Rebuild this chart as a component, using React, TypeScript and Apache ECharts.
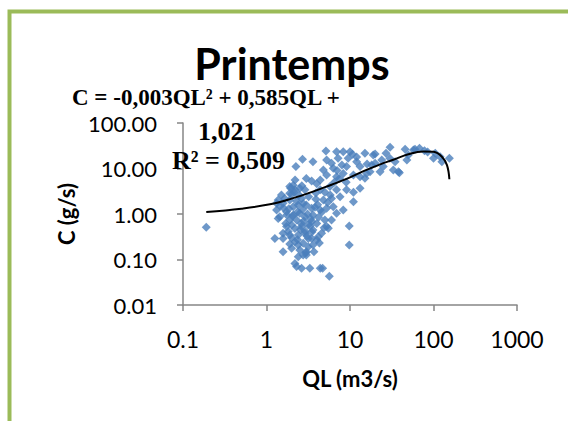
import React, { useEffect, useRef } from "react";
import * as echarts from "echarts";

// Scatter observations: QL (m3/s) and C (g/s)
const QL: number[] = [
  5.15, 6.9, 8.3, 10, 10.7, 15.1, 20, 9.5, 12, 7.2,
  5.25, 6.0, 3.6, 2.7, 2.25, 4.8, 6.3, 9.1, 13.2, 18.2,
  15.8, 11, 8.3, 6.9, 5.25, 4.4, 3.47, 2.09, 2.19, 2.5,
  2.88, 1.9, 1.51, 1.38, 1.9, 2.63, 4.4, 5.75, 6.9, 9.1,
  13.2, 11, 7.6, 6.0, 4.8, 1.32, 1.44, 1.74, 2.09, 2.4,
  3.0, 3.47, 2.5, 1.9, 2.29, 2.88, 3.6, 4.4, 5.25, 6.3,
  6.9, 5.0, 4.0, 3.16, 2.63, 2.19, 1.74, 6.0, 8.3, 9.8,
  3.6, 1.26, 1.58, 1.9, 2.4, 2.88, 3.47, 2.19, 2.75, 4.0,
  4.57, 5.25, 1.58, 2.0, 2.5, 3.16, 3.6, 2.4, 2.75, 2.29,
  2.63, 3.3, 4.4, 4.7, 5.65, 9.8, 2.19, 1.9, 2.96, 3.7,
  27, 30.2, 34.7, 33, 38, 48, 45.7, 60, 68, 78,
  100, 126, 155, 120, 20, 24, 19, 22.9, 17.4, 15.1,
  13.2, 57.5, 85, 105, 50, 30, 39, 1.9, 1.58, 1.32,
  1.38, 2.0, 1.82, 1.58, 2.4, 3.0, 3.47, 5.5, 4.17, 3.16,
  3.0, 2.3, 2.7, 3.2, 3.9, 4.1, 2.1, 2.6, 3.4, 4.6,
  5.4, 5.0, 6.5, 4.0, 3.0, 2.2, 7.0, 8.0, 12, 16,
  25, 1.7, 2.9, 2.0, 1.6, 11, 9.0, 4.3, 0.19,
  1.45, 1.65, 1.85, 2.05, 2.35, 2.55, 2.8, 3.1, 3.35, 3.8,
  4.2, 4.9, 2.15, 2.45, 2.75, 3.05, 3.5, 1.75, 2.0, 2.65,
  5.8, 7.5, 3.9, 2.35, 1.95,
];
const C: number[] = [
  24.3, 23.4, 23.4, 23.4, 20.5, 21.6, 20.8, 16.7, 14.1, 16.7,
  15.4, 13.0, 14.1, 15.9, 11, 9.3, 10.1, 11, 11, 11.9,
  7.8, 7.2, 7.8, 6.6, 7.2, 5.6, 5.3, 4.3, 3.4, 3.7,
  3.4, 2.85, 2.6, 2.03, 2.03, 2.2, 3.4, 4.0, 3.4, 3.4,
  3.7, 1.86, 2.4, 2.2, 2.03, 1.22, 0.87, 1.12, 1.45, 1.58,
  1.58, 1.33, 1.04, 0.74, 0.74, 0.87, 0.95, 1.22, 1.33, 1.45,
  1.04, 0.74, 0.62, 0.57, 0.53, 0.48, 0.53, 0.74, 1.22, 0.545,
  0.445, 0.29, 0.377, 0.345, 0.345, 0.377, 0.29, 0.246, 0.227, 0.268,
  0.377, 0.53, 0.148, 0.176, 0.162, 0.191, 0.208, 0.115, 0.126, 0.07,
  0.064, 0.064, 0.064, 0.064, 0.043, 0.208, 0.082, 0.22, 0.14, 0.148,
  21.6, 29.2, 14.1, 9.3, 8.5, 15.4, 26.4, 26.4, 27.8, 24.6,
  16.7, 14.1, 16.7, 18.2, 13.0, 15.4, 19.8, 8.5, 8.5, 6.1,
  6.6, 25.5, 23, 21.6, 19.8, 16.7, 8.1, 4.0, 1.72, 1.72,
  0.8, 0.57, 0.41, 0.29, 0.208, 0.148, 0.68, 0.485, 0.317, 0.29,
  0.126, 1.9, 1.25, 2.4, 2.9, 1.6, 0.95, 0.62, 0.78, 1.1,
  1.8, 3.0, 5.0, 4.6, 6.0, 5.6, 9.0, 12, 18, 12.5,
  11, 0.62, 0.42, 2.7, 1.35, 3.0, 5.0, 0.23, 0.51,
  1.5, 2.2, 1.3, 0.9, 1.1, 0.45, 0.7, 1.0, 0.55, 1.4,
  0.85, 0.5, 3.0, 2.6, 1.7, 0.33, 0.4, 0.95, 0.3, 4.2,
  2.6, 6.0, 2.1, 0.27, 3.7,
];

// Polynomial trend line
const trendQL: number[] = [0.19, 0.5, 1.1, 2, 3.6, 6, 9.1, 15, 23, 33, 50, 75, 100, 126, 145, 155];
const trendC: number[] = [1.1, 1.31, 1.63, 2.18, 3.1, 4.4, 5.9, 9.0, 12.3, 15.6, 20.5, 23.6, 23.2, 18.2, 11.9, 5.8];

const titleText = "Printemps";
const eqLine1 = "C = -0,003QL² + 0,585QL +";
const eqLine2 = "1,021";
const eqLine3 = "R² = 0,509";
const xName = "QL (m3/s)";
const yName = "C (g/s)";

const SANS = "Lato, 'Open Sans', sans-serif";
const SERIF = "'Liberation Serif', 'Times New Roman', serif";

export default function App() {
  const ref = useRef<HTMLDivElement>(null);
  useEffect(() => {
    document.body.style.margin = "0";
    const chart = echarts.init(ref.current!, null, { renderer: "svg" });
    const scatterData = QL.map((q, i) => [q, C[i]]);
    const trendData = trendQL.map((q, i) => [q, trendC[i]]);
    const eqStyle = (text: string, size: number) => ({
      text,
      fontFamily: SERIF,
      fontSize: size,
      fontWeight: "bold",
      fill: "#000",
      textAlign: "left",
      textVerticalAlign: "middle",
    });
    chart.setOption({
      animation: false,
      backgroundColor: "#ffffff",
      grid: { left: 183, right: 51, top: 123, bottom: 116, containLabel: false },
      xAxis: {
        type: "log",
        logBase: 10,
        min: 0.1,
        max: 1000,
        name: xName,
        nameLocation: "middle",
        nameGap: 62,
        nameTextStyle: { fontFamily: SANS, fontSize: 22, fontWeight: "bold", color: "#000" },
        axisLine: { lineStyle: { color: "#868686", width: 1.5 } },
        axisTick: { show: true, inside: false, length: 6, lineStyle: { color: "#868686", width: 1.5 } },
        minorTick: { show: false },
        splitLine: { show: false },
        axisLabel: {
          margin: 22,
          fontFamily: SANS,
          fontSize: 23,
          color: "#000",
          formatter: (v: number) => (v < 1 ? v.toFixed(1) : String(Math.round(v))),
        },
      },
      yAxis: {
        type: "log",
        logBase: 10,
        min: 0.01,
        max: 100,
        name: yName,
        nameLocation: "middle",
        nameRotate: 90,
        nameGap: 104,
        nameTextStyle: { fontFamily: SANS, fontSize: 22, fontWeight: "bold", color: "#000" },
        axisLine: { lineStyle: { color: "#868686", width: 1.5 } },
        axisTick: { show: true, inside: false, length: 6, lineStyle: { color: "#868686", width: 1.5 } },
        splitLine: { show: false },
        axisLabel: {
          margin: 26,
          fontFamily: SANS,
          fontSize: 22,
          color: "#000",
          formatter: (v: number) => v.toFixed(2),
        },
      },
      series: [
        {
          type: "scatter",
          data: scatterData,
          symbol: "diamond",
          symbolSize: 9,
          itemStyle: { color: "#4a7ebb" },
          z: 2,
        },
        {
          type: "line",
          data: trendData,
          smooth: 0.4,
          showSymbol: false,
          symbol: "none",
          lineStyle: { color: "#000000", width: 2 },
          z: 3,
        },
      ],
      graphic: [
        {
          type: "rect",
          shape: { x: 9.5, y: 11.5, width: 700, height: 600 },
          style: { fill: "none", stroke: "#9bbb59", lineWidth: 4 },
          silent: true,
          z: 0,
        },
        {
          type: "text",
          x: 292,
          y: 63,
          style: {
            text: titleText,
            fontFamily: SANS,
            fontSize: 43,
            fontWeight: "bold",
            fill: "#000",
            textAlign: "center",
            textVerticalAlign: "middle",
          },
          z: 10,
        },
        { type: "text", x: 72, y: 97, style: eqStyle(eqLine1, 23), z: 10 },
        { type: "text", x: 198, y: 131.5, style: eqStyle(eqLine2, 26), z: 10 },
        { type: "text", x: 172, y: 160.5, style: eqStyle(eqLine3, 26), z: 10 },
      ],
    });
    return () => chart.dispose();
  }, []);
  return <div ref={ref} style={{ width: 568, height: 421 }} />;
}
